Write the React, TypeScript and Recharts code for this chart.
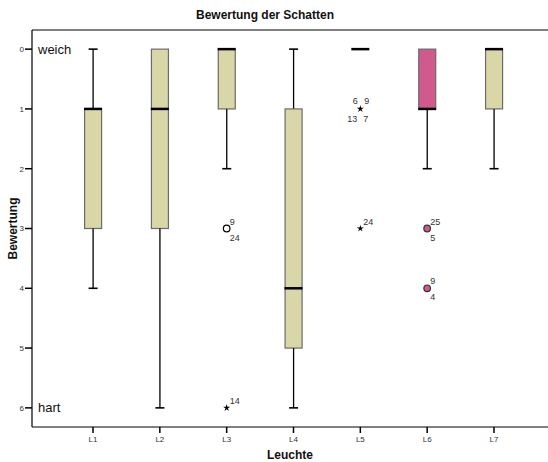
import { ComposedChart, Bar, Scatter, XAxis, YAxis, ReferenceLine, Cell } from 'recharts'

const categories = ['L1', 'L2', 'L3', 'L4', 'L5', 'L6', 'L7']
const mins = [0, 0, 0, 0, 0, 0, 0]
const lowerQuartiles = [1, 0, 0, 1, 0, 0, 0]
const medians = [1, 1, 0, 4, 0, 1, 0]
const upperQuartiles = [3, 3, 1, 5, 0, 1, 1]
const maxs = [4, 6, 2, 6, 0, 2, 2]
const yTicks = [0, 1, 2, 3, 4, 5, 6]

const circleOutliers = [
  { name: 'L3', value: 3, cases: ['9', '24'] },
  { name: 'L6', value: 3, cases: ['25', '5'] },
  { name: 'L6', value: 4, cases: ['9', '4'] },
]
const starOutliers = [
  { name: 'L3', value: 6, cases: ['14'] },
  { name: 'L5', value: 1, cases: ['6', '9', '13', '7'] },
  { name: 'L5', value: 3, cases: ['24'] },
]

const highlighted = 'L6'
const beige = '#d9d7a8'
const pink = '#d05a8e'
const font = 'Arial, "Liberation Sans", sans-serif'

const data = categories.map((name, i) => ({
  name,
  base: mins[i],
  lowerWhisker: lowerQuartiles[i] - mins[i],
  box: upperQuartiles[i] - lowerQuartiles[i],
  upperWhisker: maxs[i] - upperQuartiles[i],
  median: medians[i],
}))

const span = (y: number, height: number) => [Math.min(y, y + height), Math.max(y, y + height)]

const Whisker = (props: any) => {
  const { x, y, width, height, capAtTop } = props
  if (!height || isNaN(height)) return null
  const [top, bottom] = span(y, height)
  const cx = x + width / 2
  const cap = capAtTop ? top : bottom
  return (
    <g>
      <line x1={cx} x2={cx} y1={top} y2={bottom} stroke="#000" strokeWidth={1.3} />
      <line x1={cx - 4.5} x2={cx + 4.5} y1={cap} y2={cap} stroke="#000" strokeWidth={1.6} />
    </g>
  )
}

const BoxShape = (props: any) => {
  const { x, y, width, height, fill } = props
  if (!height || isNaN(height)) return null
  const [top, bottom] = span(y, height)
  return <rect x={x} y={top} width={width} height={bottom - top} fill={fill} stroke="#6b6b6b" strokeWidth={1.2} />
}

const MedianShape = (props: any) => {
  const { cx, cy } = props
  return <line x1={cx - 9} x2={cx + 9} y1={cy} y2={cy} stroke="#000" strokeWidth={2.5} />
}

const labelSpots: Record<number, [number, number, 'start' | 'end'][]> = {
  1: [[3, -4, 'start']],
  2: [[3, -4, 'start'], [3, 12, 'start']],
  4: [[-2.5, -5, 'end'], [4, -5, 'start'], [-3, 13, 'end'], [3, 13, 'start']],
}

const CaseLabels = ({ cx, cy, cases }: { cx: number; cy: number; cases: string[] }) => (
  <g>
    {cases.map((c, i) => {
      const [dx, dy, anchor] = labelSpots[cases.length][i]
      return (
        <text key={i} x={cx + dx} y={cy + dy} textAnchor={anchor} fontSize={9} fill="#333" fontFamily={font}>
          {c}
        </text>
      )
    })}
  </g>
)

const CircleOutlier = (props: any) => {
  const { cx, cy, payload } = props
  const isPink = payload.name === highlighted
  return (
    <g>
      <circle cx={cx} cy={cy} r={3.3} fill={isPink ? pink : '#fff'} stroke={isPink ? '#333' : '#000'} strokeWidth={1.2} />
      <CaseLabels cx={cx} cy={cy} cases={payload.cases} />
    </g>
  )
}

const StarOutlier = (props: any) => {
  const { cx, cy, payload } = props
  const pts: string[] = []
  for (let k = 0; k < 10; k++) {
    const r = k % 2 === 0 ? 3.8 : 1.3
    const a = -Math.PI / 2 + (k * Math.PI) / 5
    pts.push(`${cx + r * Math.cos(a)},${cy + r * Math.sin(a)}`)
  }
  return (
    <g>
      <polygon points={pts.join(' ')} fill="#000" />
      <CaseLabels cx={cx} cy={cy} cases={payload.cases} />
    </g>
  )
}

export default function App() {
  return (
    <div style={{ position: 'absolute', left: 0, top: 0, width: 548, height: 462, background: '#fff', fontFamily: font }}>
      <div
        style={{
          position: 'absolute',
          top: 8,
          left: 0,
          width: 530,
          textAlign: 'center',
          fontSize: 12,
          fontWeight: 'bold',
          lineHeight: '14px',
          color: '#111',
        }}
      >
        Bewertung der Schatten
      </div>
      <ComposedChart width={548} height={462} data={data} margin={{ top: 30, right: 0, bottom: 0, left: 0 }}>
        <XAxis
          dataKey="name"
          allowDuplicatedCategory={false}
          height={35}
          padding={{ left: 27.6, right: 20.6 }}
          tickSize={6}
          tickMargin={3}
          axisLine={{ stroke: '#000', strokeWidth: 1.2 }}
          tickLine={{ stroke: '#000', strokeWidth: 1.5 }}
          tick={{ fontSize: 8, fill: '#333', fontFamily: font }}
          label={{ value: 'Leuchte', position: 'insideBottom', offset: 3, fontSize: 12, fontWeight: 'bold', fill: '#111', fontFamily: font }}
        />
        <YAxis
          type="number"
          reversed
          domain={[-0.32, 6.32]}
          allowDataOverflow
          ticks={yTicks}
          width={32}
          tickSize={7}
          tickMargin={1}
          axisLine={{ stroke: '#000', strokeWidth: 1.2 }}
          tickLine={{ stroke: '#000', strokeWidth: 1.5 }}
          tick={{ fontSize: 8, fill: '#333', fontFamily: font }}
          label={{ value: 'Bewertung', angle: -90, position: 'center', dx: -3, fontSize: 12, fontWeight: 'bold', fill: '#111', fontFamily: font }}
        />
        <ReferenceLine y={-0.32} stroke="#000" strokeWidth={1.2} />
        <ReferenceLine
          y={0}
          stroke="none"
          label={{ value: 'weich', position: 'insideLeft', offset: 6, fontSize: 13, fill: '#111', fontFamily: font }}
        />
        <ReferenceLine
          y={6}
          stroke="none"
          label={{ value: 'hart', position: 'insideLeft', offset: 6, fontSize: 13, fill: '#111', fontFamily: font }}
        />
        <Bar dataKey="base" stackId="box" barSize={17} fill="none" isAnimationActive={false} />
        <Bar
          dataKey="lowerWhisker"
          stackId="box"
          barSize={17}
          isAnimationActive={false}
          shape={(p: any) => <Whisker {...p} capAtTop />}
        />
        <Bar dataKey="box" stackId="box" barSize={17} isAnimationActive={false} shape={(p: any) => <BoxShape {...p} />}>
          {data.map((d) => (
            <Cell key={d.name} fill={d.name === highlighted ? pink : beige} />
          ))}
        </Bar>
        <Bar
          dataKey="upperWhisker"
          stackId="box"
          barSize={17}
          isAnimationActive={false}
          shape={(p: any) => <Whisker {...p} capAtTop={false} />}
        />
        <Scatter dataKey="median" isAnimationActive={false} shape={(p: any) => <MedianShape {...p} />} />
        <Scatter data={circleOutliers} dataKey="value" isAnimationActive={false} shape={(p: any) => <CircleOutlier {...p} />} />
        <Scatter data={starOutliers} dataKey="value" isAnimationActive={false} shape={(p: any) => <StarOutlier {...p} />} />
      </ComposedChart>
    </div>
  )
}
